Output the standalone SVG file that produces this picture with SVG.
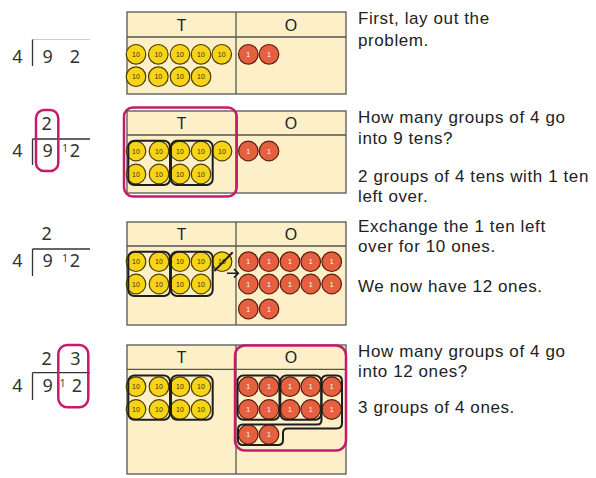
<svg xmlns="http://www.w3.org/2000/svg" width="596" height="478" viewBox="0 0 596 478">
<style>
.bg{fill:#fdf0c8;stroke:#555;stroke-width:1.3}
.ln{stroke:#555;stroke-width:1.3}
.hd{font-family:"Noto Sans","Liberation Sans",sans-serif;font-size:16.5px;fill:#222;text-anchor:middle}
.t{fill:#f7d417;stroke:#4a3d00;stroke-width:1.2}
.o{fill:#e5603f;stroke:#5a1d10;stroke-width:1.2}
.tt{font-family:"Liberation Sans",sans-serif;font-size:7px;fill:#3a3000;text-anchor:middle}
.ot{font-family:"Liberation Sans",sans-serif;font-size:7px;fill:#fff;text-anchor:middle}
.grp{fill:none;stroke:#1e1e1e;stroke-width:2}
.mag{fill:none;stroke:#c8196d;stroke-width:2.5}
.dv{font-family:"Noto Sans","Liberation Sans",sans-serif;font-size:18px;fill:#333;text-anchor:middle}
.sm{font-family:"Noto Sans","Liberation Sans",sans-serif;font-size:10px;fill:#333;text-anchor:middle}
.dl{stroke:#333;stroke-width:1.3}
.tx{font-family:"Liberation Sans",Arial,sans-serif;font-size:17px;letter-spacing:0.6px;fill:#222}
</style>
<defs>
<g id="ten"><circle r="9.8" class="t"/><text y="2.5" class="tt">10</text></g>
<g id="one"><circle r="9.8" class="o"/><text y="2.5" class="ot">1</text></g>
</defs>

<g id="step1">
<g id="div1">
<text x="17.5" y="63" class="dv">4</text>
<line x1="32.5" y1="39.5" x2="90" y2="39.5" stroke="#ccc" stroke-width="1.2"/>
<line x1="32.5" y1="39.5" x2="32.5" y2="66" class="dl"/>
<text x="47.7" y="63" class="dv">9</text>
<text x="75" y="63" class="dv">2</text>
</g>
<g id="chart1">
<rect x="127" y="12" width="219" height="82" class="bg"/>
<line x1="127" y1="37" x2="346" y2="37" class="ln"/>
<line x1="236" y1="12" x2="236" y2="94" class="ln"/>
<text x="181.5" y="30.5" class="hd">T</text>
<text x="291" y="30.5" class="hd">O</text>
<use href="#ten" x="136" y="54.3"/><use href="#ten" x="158.3" y="54.3"/><use href="#ten" x="180" y="54.3"/><use href="#ten" x="201" y="54.3"/><use href="#ten" x="221.7" y="54.3"/>
<use href="#ten" x="136" y="76.7"/><use href="#ten" x="158.3" y="76.7"/><use href="#ten" x="180" y="76.7"/><use href="#ten" x="201" y="76.7"/>
<use href="#one" x="248.3" y="54.3"/><use href="#one" x="269" y="54.3"/>
</g>
<g id="text1" class="tx">
<text x="358" y="24">First, lay out the</text>
<text x="358" y="45.5">problem.</text>
</g>
</g>

<g id="step2">
<g id="div2">
<text x="46.7" y="130" class="dv">2</text>
<line x1="32.5" y1="139" x2="90" y2="139" class="dl"/>
<line x1="32.5" y1="139" x2="32.5" y2="165" class="dl"/>
<text x="17.5" y="157.3" class="dv">4</text>
<text x="47.7" y="157.3" class="dv">9</text>
<text x="65" y="152" class="sm">1</text>
<text x="75" y="157.3" class="dv">2</text>
<rect x="36" y="110" width="22.3" height="61" rx="8" class="mag"/>
</g>
<g id="chart2">
<rect x="127" y="111" width="219" height="82" class="bg"/>
<line x1="127" y1="135" x2="346" y2="135" class="ln"/>
<line x1="236" y1="111" x2="236" y2="193" class="ln"/>
<text x="181.5" y="129" class="hd">T</text>
<text x="291" y="129" class="hd">O</text>
<use href="#ten" x="136" y="151"/><use href="#ten" x="159" y="151"/><use href="#ten" x="180" y="151"/><use href="#ten" x="201" y="151"/><use href="#ten" x="222" y="151"/>
<use href="#ten" x="136" y="174"/><use href="#ten" x="159" y="174"/><use href="#ten" x="180" y="174"/><use href="#ten" x="201" y="174"/>
<use href="#one" x="248.3" y="151"/><use href="#one" x="269" y="151"/>
<rect x="128.3" y="140.7" width="41.7" height="44.3" rx="6" class="grp"/>
<rect x="171" y="140.7" width="41.7" height="44.3" rx="6" class="grp"/>
<rect x="124" y="107.5" width="112.7" height="89" rx="9" class="mag"/>
</g>
<g id="text2" class="tx">
<text x="358" y="123.3">How many groups of 4 go</text>
<text x="358" y="144">into 9 tens?</text>
<text x="358" y="181.7">2 groups of 4 tens with 1 ten</text>
<text x="358" y="201.7">left over.</text>
</g>
</g>

<g id="step3">
<g id="div3">
<text x="46.7" y="240" class="dv">2</text>
<line x1="32.5" y1="249" x2="90" y2="249" class="dl"/>
<line x1="32.5" y1="249" x2="32.5" y2="276" class="dl"/>
<text x="17.5" y="267.3" class="dv">4</text>
<text x="47.7" y="267.3" class="dv">9</text>
<text x="65" y="262" class="sm">1</text>
<text x="75" y="267.3" class="dv">2</text>
</g>
<g id="chart3">
<rect x="127" y="222" width="219" height="103" class="bg"/>
<line x1="127" y1="246" x2="346" y2="246" class="ln"/>
<line x1="236" y1="222" x2="236" y2="325" class="ln"/>
<text x="181.5" y="240" class="hd">T</text>
<text x="291" y="240" class="hd">O</text>
<use href="#ten" x="136" y="261.7"/><use href="#ten" x="159" y="261.7"/><use href="#ten" x="180" y="261.7"/><use href="#ten" x="201" y="261.7"/><use href="#ten" x="222" y="261.7"/>
<use href="#ten" x="136" y="284"/><use href="#ten" x="159" y="284"/><use href="#ten" x="180" y="284"/><use href="#ten" x="201" y="284"/>
<use href="#one" x="248.3" y="261.7"/><use href="#one" x="269" y="261.7"/><use href="#one" x="290" y="261.7"/><use href="#one" x="310.7" y="261.7"/><use href="#one" x="331.7" y="261.7"/>
<use href="#one" x="248.3" y="284"/><use href="#one" x="269" y="284"/><use href="#one" x="290" y="284"/><use href="#one" x="310.7" y="284"/><use href="#one" x="331.7" y="284"/>
<use href="#one" x="248.3" y="309"/><use href="#one" x="269" y="309"/>
<rect x="128.3" y="251.7" width="41.7" height="44.3" rx="6" class="grp"/>
<rect x="171" y="251.7" width="41.7" height="44.3" rx="6" class="grp"/>
<line x1="214.3" y1="271" x2="232.7" y2="252.3" stroke="#1e1e1e" stroke-width="2"/>
<path d="M227 273.3 H238.3 M234 269 L238.3 273.3 L234 277.6" fill="none" stroke="#1e1e1e" stroke-width="1.6"/>
</g>
<g id="text3" class="tx">
<text x="358" y="231.7">Exchange the 1 ten left</text>
<text x="358" y="252.3">over for 10 ones.</text>
<text x="358" y="291.7">We now have 12 ones.</text>
</g>
</g>

<g id="step4">
<g id="div4">
<text x="46.7" y="365" class="dv">2</text>
<text x="75.3" y="365" class="dv">3</text>
<line x1="32.5" y1="372.7" x2="90" y2="372.7" class="dl"/>
<line x1="32.5" y1="372.7" x2="32.5" y2="400" class="dl"/>
<text x="17.5" y="392.3" class="dv">4</text>
<text x="47.7" y="392.3" class="dv">9</text>
<text x="62.5" y="387" class="sm">1</text>
<text x="77" y="392.3" class="dv">2</text>
<rect x="58.3" y="345" width="30" height="62.3" rx="9" class="mag"/>
</g>
<g id="chart4">
<rect x="127" y="345" width="219" height="129" class="bg"/>
<line x1="127" y1="369.3" x2="346" y2="369.3" class="ln"/>
<line x1="236" y1="345" x2="236" y2="474" class="ln"/>
<text x="181.5" y="363" class="hd">T</text>
<text x="291" y="363" class="hd">O</text>
<use href="#ten" x="136" y="386.7"/><use href="#ten" x="159" y="386.7"/><use href="#ten" x="180" y="386.7"/><use href="#ten" x="201" y="386.7"/>
<use href="#ten" x="136" y="409.5"/><use href="#ten" x="159" y="409.5"/><use href="#ten" x="180" y="409.5"/><use href="#ten" x="201" y="409.5"/>
<rect x="128.3" y="375.5" width="41.7" height="44.3" rx="6" class="grp"/>
<rect x="171" y="375.5" width="41.7" height="44.3" rx="6" class="grp"/>
<use href="#one" x="248.3" y="386.7"/><use href="#one" x="269" y="386.7"/><use href="#one" x="290" y="386.7"/><use href="#one" x="310.7" y="386.7"/><use href="#one" x="331.7" y="386.7"/>
<use href="#one" x="248.3" y="409.5"/><use href="#one" x="269" y="409.5"/><use href="#one" x="290" y="409.5"/><use href="#one" x="310.7" y="409.5"/><use href="#one" x="331.7" y="409.5"/>
<use href="#one" x="248.3" y="434.5"/><use href="#one" x="269" y="434.5"/>
<rect x="237.5" y="375.5" width="42" height="44.3" rx="6" class="grp"/>
<rect x="280.3" y="375.5" width="41" height="44.3" rx="6" class="grp"/>
<path d="M327 375.5 H336.5 Q342 375.5 342 381 V423 Q342 428.5 336.5 428.5 H287.5 Q283 428.5 283 433 V440 Q283 445 278 445 H243 Q238 445 238 440 V429.5 Q238 424.5 243 424.5 H317 Q321.5 424.5 321.5 420 V381 Q321.5 375.5 327 375.5 Z" class="grp"/>
<rect x="235" y="345.5" width="111" height="105" rx="10" class="mag"/>
</g>
<g id="text4" class="tx">
<text x="358" y="356.7">How many groups of 4 go</text>
<text x="358" y="377.3">into 12 ones?</text>
<text x="358" y="413.3">3 groups of 4 ones.</text>
</g>
</g>
</svg>
